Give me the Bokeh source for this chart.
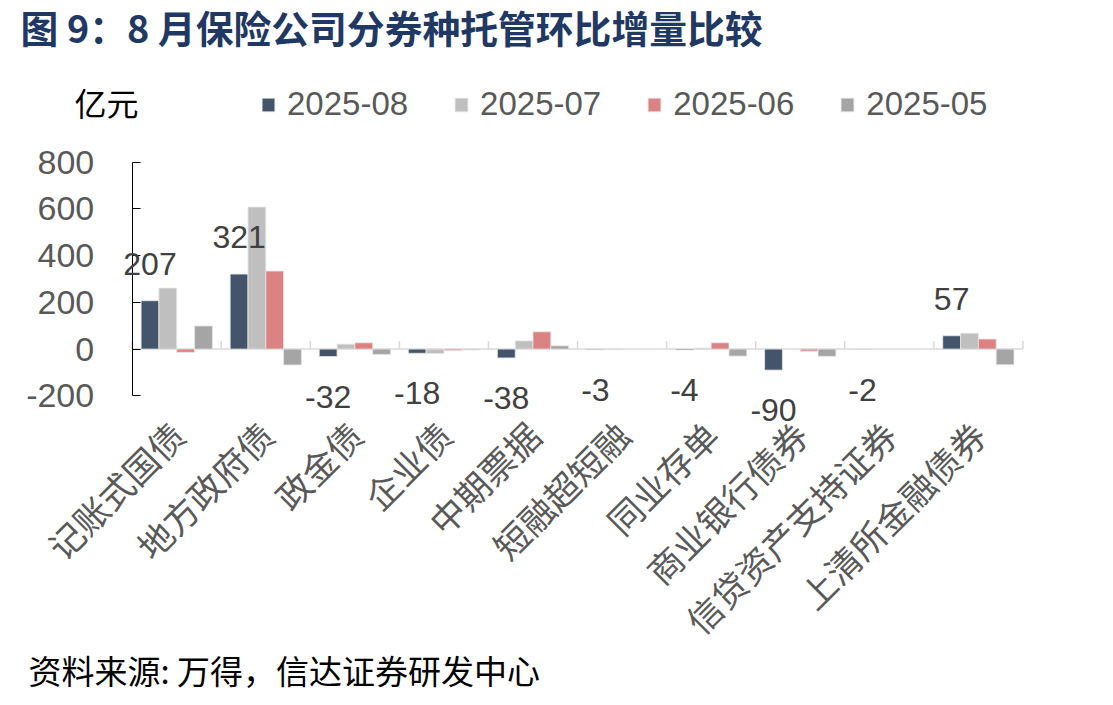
import numpy as np
from bokeh.plotting import figure
from bokeh.models import (Range1d, FixedTicker, ColumnDataSource, Label, LabelSet, Legend,
                          LegendItem, LinearAxis)
from bokeh.transform import dodge
from bokeh.core.properties import value
from bokeh.embed import file_html
from bokeh.resources import INLINE

# ---------------- data ----------------
categories = ["记账式国债", "地方政府债", "政金债", "企业债", "中期票据", "短融超短融",
              "同业存单", "商业银行债券", "信贷资产支持证券", "上清所金融债券"]
series_names = ["2025-08", "2025-07", "2025-06", "2025-05"]
s_2025_08 = [207, 321, -32, -18, -38, -3, -4, -90, -2, 57]
s_2025_07 = [261, 608, 21, -19, 35, -3, 4, -2, 0, 68]
s_2025_06 = [-14, 334, 27, -6, 74, 0, 27, -9, 0, 43]
s_2025_05 = [99, -68, -23, -4, 14, 0, -30, -31, 0, -67]
y_ticks = [-200, 0, 200, 400, 600, 800]
y_min, y_max = -200, 800

title_text = "图 9：8 月保险公司分券种托管环比增量比较"
unit_text = "亿元"
source_text = "资料来源: 万得，信达证券研发中心"

# ---------------- style / layout ----------------
colors = ["#44546A", "#BFBFBF", "#DB8383", "#A5A5A5"]
offsets = [-0.3, -0.1, 0.1, 0.3]
BAR_W = 0.2
LATIN = "Liberation Sans"
CJK = "Noto Sans CJK SC"

W, H = 1113, 705
AX_X = 131.7          # pixel column of the value axis
CAT_W = 89.07         # pixels per category
Y_TOP_PX, Y_BOT_PX = 161.7, 395.3   # pixel rows of y_max / y_min
k = (y_max - y_min) / (Y_BOT_PX - Y_TOP_PX)
x_start = -0.5 - AX_X / CAT_W
x_end = x_start + W / CAT_W
y_start = y_min - (H - Y_BOT_PX) * k
y_end = y_max + Y_TOP_PX * k


def px_x(px):
    return x_start + px / CAT_W


def px_y(py):
    return y_end - py * k


n = len(categories)
centers = list(range(n))

src = ColumnDataSource(dict(
    x=centers, cat=categories,
    s0=s_2025_08, s1=s_2025_07, s2=s_2025_06, s3=s_2025_05,
    lab=[str(v) for v in s_2025_08],
    off=[37 if v > 0 else -40 for v in s_2025_08],
))

p = figure(width=W, height=H, x_range=Range1d(x_start, x_end), y_range=Range1d(y_start, y_end),
           x_axis_type=None, y_axis_type=None,
           output_backend="svg", toolbar_location=None,
           min_border=0, min_border_left=0, min_border_right=0, min_border_top=0,
           min_border_bottom=0)
p.outline_line_color = None
p.background_fill_color = "white"
p.border_fill_color = "white"

# zero line and category separators
tick_len = 8 * k
bounds = [c - 0.5 for c in centers] + [centers[-1] + 0.5]
p.segment(x0=[bounds[0]], y0=[0], x1=[bounds[-1]], y1=[0], line_color="#D9D9D9", line_width=1.5)
p.segment(x0=bounds, y0=[0] * len(bounds), x1=bounds, y1=[tick_len] * len(bounds),
          line_color="#D9D9D9", line_width=1.5)

renderers = []
for i, (name, col, off) in enumerate(zip(series_names, colors, offsets)):
    r = p.vbar(x=dodge("x", off), top="s%d" % i, bottom=0, width=BAR_W,
               source=src, fill_color=col, line_color="#E6E6E6", line_width=0.8)
    renderers.append(r)

# data labels for 2025-08
labels = LabelSet(x=dodge("x", offsets[0]), y="s0", text="lab",
                  y_offset="off", source=src, text_align="center", text_baseline="middle",
                  text_font=value(LATIN), text_font_size="32px", text_color="#404040")
p.add_layout(labels)

# value axis
yax = LinearAxis(fixed_location=-0.5, ticker=FixedTicker(ticks=y_ticks), bounds=(y_min, y_max),
                 major_label_overrides={t: str(t) for t in y_ticks})
yax.axis_line_color = "black"
yax.axis_line_width = 1
yax.major_tick_line_color = "black"
yax.major_tick_in = 8
yax.major_tick_out = 0
yax.minor_tick_line_color = None
yax.major_label_standoff = 38
yax.major_label_text_font = LATIN
yax.major_label_text_font_size = "34px"
yax.major_label_text_color = "#595959"
p.add_layout(yax, "left")

# category axis
xax = LinearAxis(fixed_location=y_min, ticker=FixedTicker(ticks=centers),
                 major_label_overrides={c: cat for c, cat in zip(centers, categories)})
xax.axis_line_color = None
xax.major_tick_line_color = None
xax.minor_tick_line_color = None
xax.major_label_orientation = np.pi / 4
xax.major_label_standoff = 26
xax.major_label_text_font = CJK
xax.major_label_text_font_size = "35px"
xax.major_label_text_color = "#595959"
p.add_layout(xax, "below")

# legend
legend = Legend(items=[LegendItem(label=nm, renderers=[r]) for nm, r in zip(series_names, renderers)],
                orientation="horizontal", location=(260, H - 123),
                glyph_width=16, glyph_height=17, label_standoff=11, spacing=45,
                padding=0, margin=0, border_line_color=None, background_fill_alpha=0,
                label_text_font=LATIN, label_text_font_size="33px", label_text_color="#595959")
p.add_layout(legend)

# texts
p.add_layout(Label(x=px_x(20), y=px_y(26), text=title_text, text_align="left",
                   text_baseline="middle",
                   text_font=CJK, text_font_style="bold", text_font_size="37.8px",
                   text_color="#1F3864"))
p.add_layout(Label(x=px_x(74), y=px_y(101), text=unit_text, text_align="left",
                   text_baseline="middle", text_font=CJK, text_font_size="32px",
                   text_color="#000000"))
p.add_layout(Label(x=px_x(28), y=px_y(669), text=source_text, text_align="left",
                   text_baseline="middle", text_font=CJK, text_font_size="33px",
                   text_color="#000000"))

open("out.html", "w").write(file_html(p, INLINE))
